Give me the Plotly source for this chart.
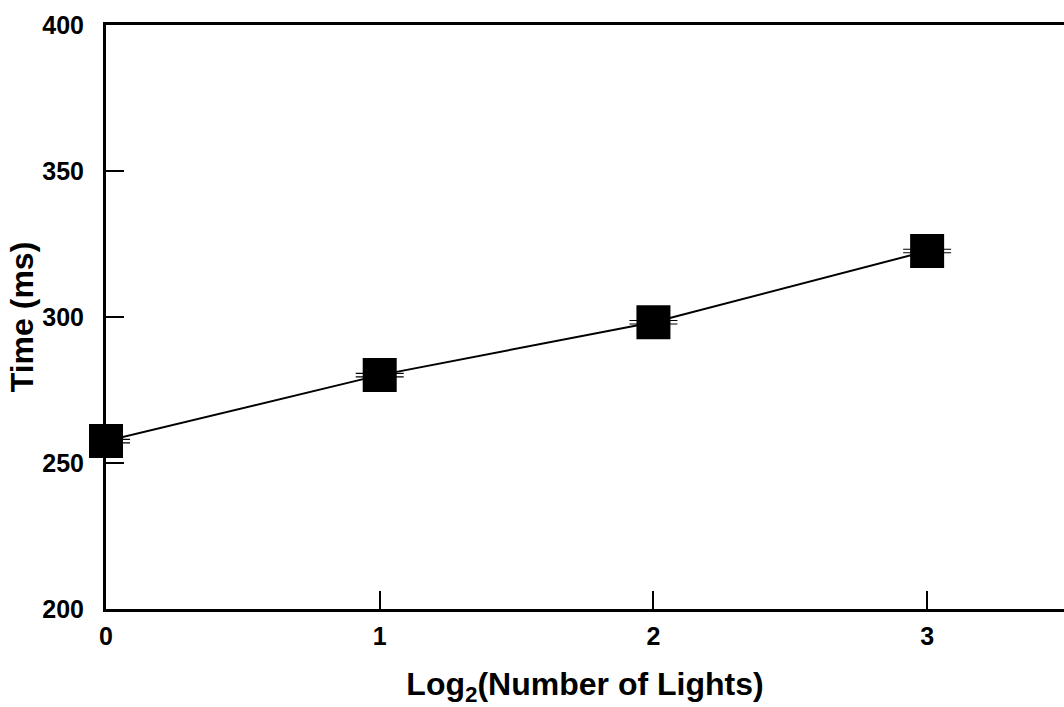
import plotly.graph_objects as go

# Data
x_vals = [0, 1, 2, 3]
time_ms = [257.5, 280.1, 298.2, 322.6]
err_ms = [0.6, 0.6, 0.6, 0.6]
x_ticks = [0, 1, 2, 3]
y_ticks = [200, 250, 300, 350, 400]

FONT = "Liberation Sans, Arial, Helvetica, sans-serif"

fig = go.Figure()
fig.add_trace(go.Scatter(
    x=x_vals, y=time_ms,
    mode="lines+markers",
    line=dict(color="black", width=2),
    marker=dict(symbol="square", size=34, color="black", line=dict(width=0)),
    error_y=dict(type="data", array=err_ms, visible=True, color="black", thickness=1.2, width=24),
    cliponaxis=False,
    showlegend=False,
))

fig.update_layout(
    width=1064, height=707,
    margin=dict(l=106, r=0, t=25, b=98),
    paper_bgcolor="white", plot_bgcolor="white",
    font=dict(family=FONT, color="black"),
    xaxis=dict(
        range=[0, 3.5], tickvals=x_ticks, ticktext=[str(v) for v in x_ticks],
        ticks="inside", ticklen=18, tickwidth=1.5, tickcolor="black",
        showline=True, linecolor="black", linewidth=3, mirror=True,
        showgrid=False, zeroline=False,
        tickfont=dict(family=FONT, size=25, weight="bold"),
        ticklabelstandoff=3,
        title=dict(text="Log<sub>2</sub>(Number of Lights)", font=dict(family=FONT, size=32, weight="bold"), standoff=26),
    ),
    yaxis=dict(
        range=[200, 400], tickvals=y_ticks,
        ticks="inside", ticklen=18, tickwidth=1.5, tickcolor="black",
        showline=True, linecolor="black", linewidth=3,
        showgrid=False, zeroline=False,
        tickfont=dict(family=FONT, size=25, weight="bold"),
        ticklabelstandoff=14,
        title=dict(text="Time (ms)", font=dict(family=FONT, size=32, weight="bold"), standoff=0),
    ),
)

fig.write_html("out.html", config={"displayModeBar": False},
               post_script="document.body.style.margin='0';document.body.style.overflow='hidden';")
